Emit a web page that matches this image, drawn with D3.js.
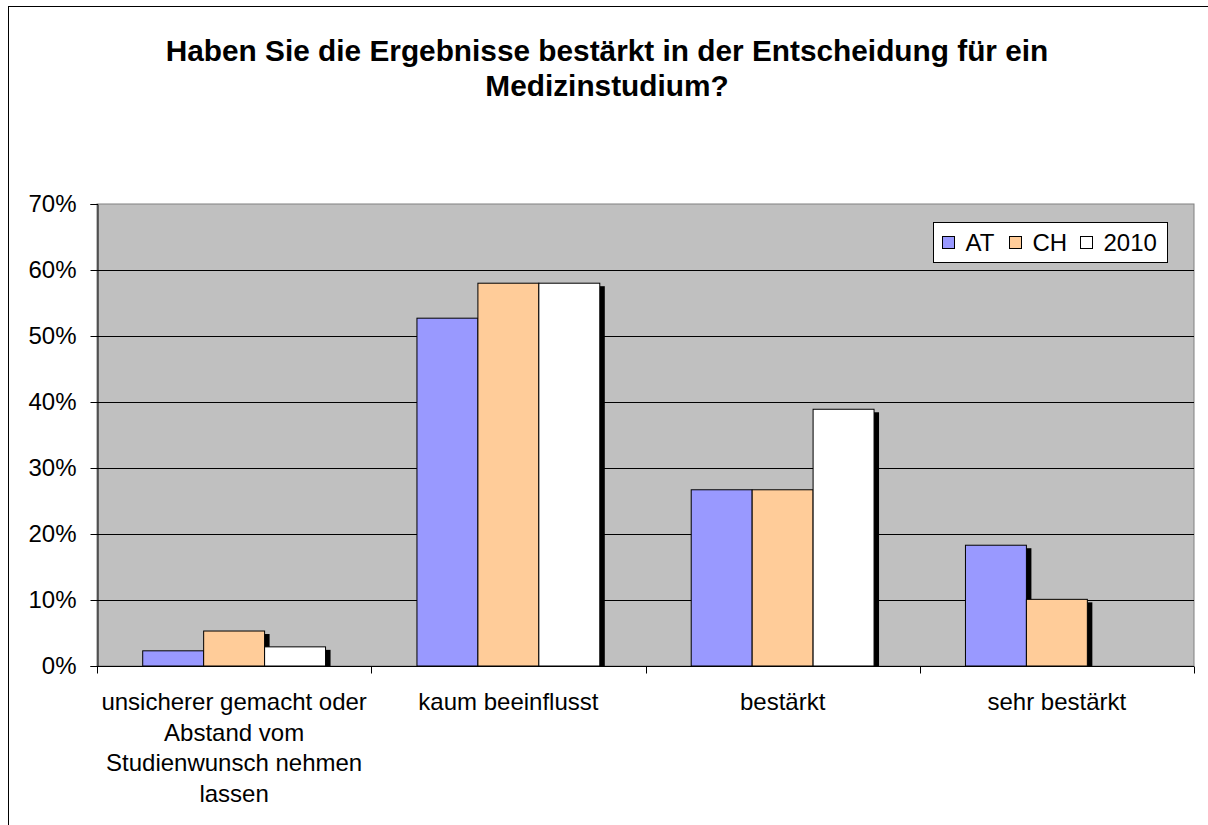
<!DOCTYPE html>
<html>
<head>
<meta charset="utf-8">
<script src="https://cdn.jsdelivr.net/npm/d3@7"></script>
<style>
  html, body { margin: 0; padding: 0; background: #fff; }
  svg { display: block; font-family: Arial, "Liberation Sans", sans-serif; }
</style>
</head>
<body>
<svg id="chart" width="1208" height="825"></svg>
<script>
// Survey answers per category
const categories = [
  "unsicherer gemacht oder\nAbstand vom\nStudienwunsch nehmen\nlassen",
  "kaum beeinflusst",
  "bestärkt",
  "sehr bestärkt"
];
const seriesNames = ["AT", "CH", "2010"];
const valuesAT   = [0.023, 0.527, 0.267, 0.183];
const valuesCH   = [0.053, 0.580, 0.267, 0.101];
const values2010 = [0.029, 0.580, 0.389, null];
const seriesColors = ["#9999FF", "#FFCC99", "#FFFFFF"];
const yTicks = [0, 0.1, 0.2, 0.3, 0.4, 0.5, 0.6, 0.7];
const titleLines = [
  "Haben Sie die Ergebnisse bestärkt in der Entscheidung für ein",
  "Medizinstudium?"
];

const seriesValues = [valuesAT, valuesCH, values2010];

const svg = d3.select("#chart");

// outer chart frame
svg.append("rect")
  .attr("x", 8.5).attr("y", 6.5)
  .attr("width", 1220).attr("height", 840)
  .attr("fill", "#fff").attr("stroke", "#000").attr("stroke-width", 1);

const plot = { left: 97, right: 1194, top: 204, bottom: 666 };

const y = d3.scaleLinear().domain([0, 0.7]).range([plot.bottom, plot.top]);
const x = d3.scaleBand().domain(categories).range([plot.left, plot.right]);
const xs = d3.scaleBand().domain(seriesNames)
  .range([0, x.bandwidth()]).paddingInner(0).paddingOuter(0.75);

// plot background
svg.append("rect")
  .attr("x", plot.left).attr("y", plot.top)
  .attr("width", plot.right - plot.left).attr("height", plot.bottom - plot.top)
  .attr("fill", "#C0C0C0").attr("stroke", "#808080").attr("stroke-width", 1);

// horizontal gridlines
svg.append("g").selectAll("line")
  .data(yTicks.filter(t => t > 0 && t < 0.7))
  .join("line")
  .attr("x1", plot.left).attr("x2", plot.right)
  .attr("y1", d => Math.round(y(d)) + 0.5).attr("y2", d => Math.round(y(d)) + 0.5)
  .attr("stroke", "#000").attr("stroke-width", 1);

// bars with drop shadows, drawn series by series
const shadowDx = 5, shadowDy = 3;
seriesNames.forEach((name, si) => {
  const data = categories.map((c, ci) => ({ c, v: seriesValues[si][ci] }))
    .filter(d => d.v != null);
  const g = svg.append("g");
  g.selectAll("rect.shadow").data(data).join("rect")
    .attr("class", "shadow")
    .attr("x", d => x(d.c) + xs(name) + shadowDx)
    .attr("y", d => y(d.v) + shadowDy)
    .attr("width", xs.bandwidth())
    .attr("height", d => Math.max(0, y(0) - y(d.v) - shadowDy))
    .attr("fill", "#000");
  g.selectAll("rect.bar").data(data).join("rect")
    .attr("class", "bar")
    .attr("x", d => x(d.c) + xs(name))
    .attr("y", d => y(d.v))
    .attr("width", xs.bandwidth())
    .attr("height", d => y(0) - y(d.v))
    .attr("fill", seriesColors[si])
    .attr("stroke", "#000").attr("stroke-width", 1);
});

// y axis
const yAxis = d3.axisLeft(y).tickValues(yTicks)
  .tickFormat(d3.format(".0%")).tickSize(7).tickPadding(14);
const gy = svg.append("g")
  .attr("transform", `translate(${plot.left + 0.5},0)`)
  .call(yAxis);
gy.attr("font-size", null).attr("font-family", null);
gy.select(".domain").attr("stroke", "#000");
gy.selectAll(".tick line").attr("stroke", "#000");
gy.selectAll(".tick text")
  .attr("font-size", 24).attr("fill", "#000");

// x axis line with boundary ticks
const gx = svg.append("g").attr("transform", `translate(0,${plot.bottom + 0.5})`);
gx.append("line")
  .attr("x1", plot.left).attr("x2", plot.right)
  .attr("stroke", "#000");
const boundaries = categories.map(c => x(c)).concat([x(categories[categories.length - 1]) + x.bandwidth()]);
gx.selectAll("line.tick").data(boundaries).join("line")
  .attr("class", "tick")
  .attr("x1", d => Math.round(d) + 0.5).attr("x2", d => Math.round(d) + 0.5)
  .attr("y1", 0).attr("y2", 7)
  .attr("stroke", "#000");

// category labels (multi-line)
const labels = svg.append("g");
categories.forEach(c => {
  const lines = c.split("\n");
  const cx = x(c) + x.bandwidth() / 2;
  const t = labels.append("text")
    .attr("x", cx)
    .attr("y", plot.bottom + 44)
    .attr("text-anchor", "middle")
    .attr("font-size", 24).attr("fill", "#000");
  lines.forEach((ln, i) => {
    t.append("tspan").attr("x", cx)
      .attr("dy", i === 0 ? 0 : 30.5).text(ln);
  });
});

// title
const title = svg.append("text")
  .attr("x", 607).attr("y", 61)
  .attr("text-anchor", "middle")
  .attr("font-size", 29.8).attr("font-weight", "bold").attr("fill", "#000");
titleLines.forEach((ln, i) => {
  title.append("tspan").attr("x", 607).attr("dy", i === 0 ? 0 : 35).text(ln);
});

// legend
const legend = svg.append("g").attr("transform", "translate(933.5,222.5)");
legend.append("rect")
  .attr("width", 234).attr("height", 40)
  .attr("fill", "#fff").attr("stroke", "#000").attr("stroke-width", 1);
const legendX = [9, 76, 147];
seriesNames.forEach((name, i) => {
  const item = legend.append("g").attr("transform", `translate(${legendX[i]},0)`);
  item.append("rect")
    .attr("x", 0).attr("y", 14).attr("width", 12).attr("height", 12)
    .attr("fill", seriesColors[i]).attr("stroke", "#000").attr("stroke-width", 1);
  item.append("text")
    .attr("x", 23).attr("y", 28)
    .attr("font-size", 24).attr("fill", "#000").text(name);
});
</script>
</body>
</html>
